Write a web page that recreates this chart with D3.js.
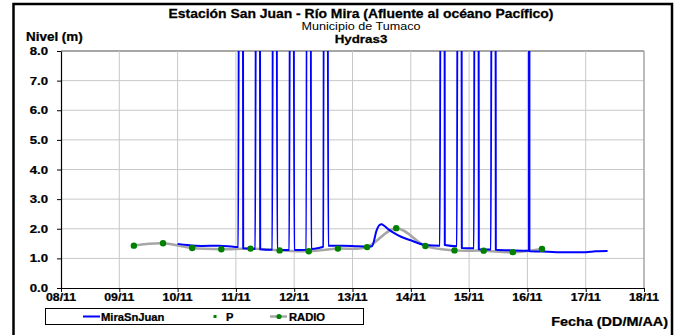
<!DOCTYPE html>
<html>
<head>
<meta charset="utf-8">
<script src="https://cdn.jsdelivr.net/npm/d3@7"></script>
<style>
  html, body { margin: 0; padding: 0; background: #ffffff; }
  svg { display: block; }
  text { font-family: "Liberation Sans", Arial, Helvetica, sans-serif; }
</style>
</head>
<body>
<svg id="chart" width="679" height="335"></svg>
<script>
// ---------------- DATA ----------------
const titleLines = ["Estación San Juan  - Río Mira (Afluente al océano Pacífico)", "Municipio de Tumaco", "Hydras3"];
const yAxisTitle = "Nivel (m)";
const xAxisTitle = "Fecha (DD/M/AA)";
const seriesNames = ["MiraSnJuan", "P", "RADIO"];

const xTickLabels = ["08/11", "09/11", "10/11", "11/11", "12/11", "13/11", "14/11", "15/11", "16/11", "17/11", "18/11"];
const yTickLabels = ["0.0", "1.0", "2.0", "3.0", "4.0", "5.0", "6.0", "7.0", "8.0"];

// MiraSnJuan (Hydras3 sensor) — 99.99 are error readings that run off the chart
const miraTimes = [
  "10/11 00:00", "10/11 04:00", "10/11 10:00", "10/11 17:00", "10/11 23:00",
  "11/11 01:00", "11/11 02:00", "11/11 03:00", "11/11 08:00", "11/11 09:00", "11/11 10:00",
  "11/11 15:00", "11/11 16:00", "11/11 17:00", "11/11 22:00", "11/11 23:00", "12/11 00:00",
  "12/11 05:00", "12/11 06:00", "12/11 07:00", "12/11 10:00", "12/11 12:00", "12/11 13:00", "12/11 14:00",
  "12/11 20:00", "13/11 00:00", "13/11 06:00", "13/11 08:00", "13/11 10:00", "13/11 11:00", "13/11 12:00",
  "13/11 13:00", "13/11 15:00", "13/11 17:00", "13/11 20:00", "14/11 00:00", "14/11 06:00",
  "14/11 12:00", "14/11 13:00", "14/11 14:00", "14/11 19:00", "14/11 20:00", "14/11 21:00",
  "15/11 02:00", "15/11 03:00", "15/11 04:00", "15/11 09:00", "15/11 10:00", "15/11 11:00",
  "15/11 18:00", "16/11 00:40", "16/11 00:45", "16/11 00:50", "16/11 06:00", "16/11 12:00",
  "17/11 00:00", "17/11 04:00", "17/11 09:00"
];
const miraLevels = [
  1.49, 1.45, 1.42, 1.43, 1.39,
  1.38, 99.99, 1.34, 1.32, 99.99, 1.31,
  1.29, 99.99, 1.28, 1.28, 99.99, 1.28,
  1.29, 99.99, 1.32, 1.35, 1.40, 99.99, 1.43,
  1.43, 1.42, 1.39, 1.41, 1.96, 2.12, 2.15,
  2.10, 1.97, 1.86, 1.73, 1.61, 1.45,
  1.43, 99.99, 1.45, 1.41, 99.99, 1.35,
  1.34, 99.99, 1.31, 1.30, 99.99, 1.29,
  1.27, 1.26, 99.99, 1.24, 1.23, 1.21,
  1.21, 1.24, 1.25
];

// P — no readings in this period
const pTimes = [];
const pLevels = [];

// RADIO readings (06:00 and 18:00)
const radioTimes = [
  "09/11 06:00", "09/11 18:00", "10/11 06:00", "10/11 18:00", "11/11 06:00",
  "11/11 18:00", "12/11 06:00", "12/11 18:00", "13/11 06:00", "13/11 18:00",
  "14/11 06:00", "14/11 18:00", "15/11 06:00", "15/11 18:00", "16/11 06:00"
];
const radioLevels = [1.43, 1.51, 1.35, 1.31, 1.33, 1.27, 1.24, 1.33, 1.38, 2.02, 1.42, 1.27, 1.26, 1.21, 1.32];

// ---------------- CHART ----------------
const parseT = d3.timeParse("%d/%m %H:%M");
const parseD = d3.timeParse("%d/%m");

const svg = d3.select("#chart");
const plot = { left: 61, right: 644, top: 51, bottom: 288 };

const x = d3.scaleTime()
  .domain([parseD(xTickLabels[0]), parseD(xTickLabels[xTickLabels.length - 1])])
  .range([plot.left, plot.right]);
const y = d3.scaleLinear()
  .domain([+yTickLabels[0], +yTickLabels[yTickLabels.length - 1]])
  .range([plot.bottom, plot.top]);

const xTicks = xTickLabels.map(s => parseD(s));
const yTicks = yTickLabels.map(s => +s);

function addText(g, px, py, str, opts) {
  const o = Object.assign({ size: 11, weight: "bold", anchor: "start", sx: 1.12, fill: "#000" }, opts || {});
  const t = g.append("g")
    .attr("transform", `translate(${px},${py}) scale(${o.sx},1)`)
    .append("text")
    .attr("text-anchor", o.anchor)
    .attr("font-size", o.size)
    .attr("font-weight", o.weight)
    .attr("fill", o.fill)
    .text(str);
  if (o.weight === "bold") t.attr("stroke", o.fill).attr("stroke-width", 0.25);
}

// outer frame
svg.append("rect")
  .attr("x", 13.5).attr("y", 4).attr("width", 658.5).attr("height", 345)
  .attr("fill", "#fff").attr("stroke", "#000").attr("stroke-width", 2.5);

// grid
const grid = svg.append("g");
grid.selectAll("line.h").data(yTicks.slice(1)).join("line")
  .attr("x1", plot.left).attr("x2", plot.right)
  .attr("y1", d => y(d)).attr("y2", d => y(d))
  .attr("stroke", d => d === yTicks[yTicks.length - 1] ? "#a6a6a6" : "#c8c8c8")
  .attr("stroke-width", d => d === yTicks[yTicks.length - 1] ? 2 : 1);
grid.selectAll("line.v").data(xTicks.slice(1)).join("line")
  .attr("x1", d => x(d)).attr("x2", d => x(d))
  .attr("y1", plot.top).attr("y2", plot.bottom)
  .attr("stroke", (d, i) => i === xTicks.length - 2 ? "#a6a6a6" : "#c8c8c8")
  .attr("stroke-width", (d, i) => i === xTicks.length - 2 ? 1.5 : 1);

// axes
const yAxis = d3.axisLeft(y).tickValues(yTicks).tickFormat((d, i) => yTickLabels[i]).tickSize(4).tickSizeOuter(0);
const yg = svg.append("g").attr("transform", `translate(${plot.left},0)`).call(yAxis);
yg.select(".domain").attr("stroke", "#000").attr("stroke-width", 1.2);
yg.selectAll(".tick line").attr("stroke", "#000");
yg.selectAll(".tick text").remove();
yTicks.forEach((v, i) => addText(svg, 48, y(v) + 4, yTickLabels[i], { anchor: "end", sx: 1.2 }));

const xAxis = d3.axisBottom(x).tickValues(xTicks).tickFormat((d, i) => xTickLabels[i]).tickSize(4).tickSizeOuter(0);
const xg = svg.append("g").attr("transform", `translate(0,${plot.bottom})`).call(xAxis);
xg.select(".domain").attr("stroke", "#000").attr("stroke-width", 1.2);
xg.selectAll(".tick line").attr("stroke", "#000");
xg.selectAll(".tick text").remove();
xTicks.forEach((d, i) => addText(svg, x(d), 301, xTickLabels[i], { anchor: "middle" }));

// clip
svg.append("clipPath").attr("id", "clip")
  .append("rect").attr("x", plot.left).attr("y", plot.top)
  .attr("width", plot.right - plot.left).attr("height", plot.bottom - plot.top);

const miraData = miraTimes.map((t, i) => ({ t: parseT(t), v: miraLevels[i] }));
const radioData = radioTimes.map((t, i) => ({ t: parseT(t), v: radioLevels[i] }));
const pData = pTimes.map((t, i) => ({ t: parseT(t), v: pLevels[i] }));

const series = svg.append("g").attr("clip-path", "url(#clip)");

series.append("path")
  .datum(radioData)
  .attr("fill", "none").attr("stroke", "#a6a6a6").attr("stroke-width", 2.5)
  .attr("d", d3.line().x(d => x(d.t)).y(d => y(d.v)).curve(d3.curveCardinal.tension(0)));

series.append("path")
  .datum(miraData)
  .attr("fill", "none").attr("stroke", "#0000ff").attr("stroke-width", 2)
  .attr("stroke-linejoin", "round")
  .attr("d", d3.line().x(d => x(d.t)).y(d => y(d.v)).curve(d3.curveMonotoneX));

series.selectAll("rect.p").data(pData).join("rect")
  .attr("x", d => x(d.t) - 1.5).attr("y", d => y(d.v) - 1.5)
  .attr("width", 3).attr("height", 3).attr("fill", "#008000");

series.selectAll("circle.radio").data(radioData).join("circle")
  .attr("cx", d => x(d.t)).attr("cy", d => y(d.v)).attr("r", 3.2)
  .attr("fill", "#008000");

// titles
const cx = 361;
addText(svg, cx, 18, titleLines[0], { anchor: "middle", size: 12, sx: 1.16 });
addText(svg, cx, 30, titleLines[1], { anchor: "middle", weight: "normal", size: 10.5, sx: 1.2 });
addText(svg, cx, 43, titleLines[2], { anchor: "middle", size: 11.5, sx: 1.16 });
addText(svg, 26, 41, yAxisTitle, { size: 12 });
addText(svg, 668, 326, xAxisTitle, { anchor: "end", size: 12, sx: 1.2 });

// legend
const lg = svg.append("g");
lg.append("rect").attr("x", 45.5).attr("y", 308.5).attr("width", 318).attr("height", 16)
  .attr("fill", "#fff").attr("stroke", "#000").attr("stroke-width", 1);
const ly = 316.5;
lg.append("line").attr("x1", 83).attr("x2", 100).attr("y1", ly).attr("y2", ly)
  .attr("stroke", "#0000ff").attr("stroke-width", 2);
addText(lg, 101, ly + 4, seriesNames[0], { size: 10 });
lg.append("rect").attr("x", 213.5).attr("y", ly - 1.5).attr("width", 3).attr("height", 3).attr("fill", "#008000");
addText(lg, 226, ly + 4, seriesNames[1], { size: 10 });
lg.append("line").attr("x1", 270).attr("x2", 287).attr("y1", ly).attr("y2", ly)
  .attr("stroke", "#a6a6a6").attr("stroke-width", 2.5);
lg.append("circle").attr("cx", 279).attr("cy", ly).attr("r", 2.6).attr("fill", "#008000");
addText(lg, 289, ly + 4, seriesNames[2], { size: 10 });
</script>
</body>
</html>
